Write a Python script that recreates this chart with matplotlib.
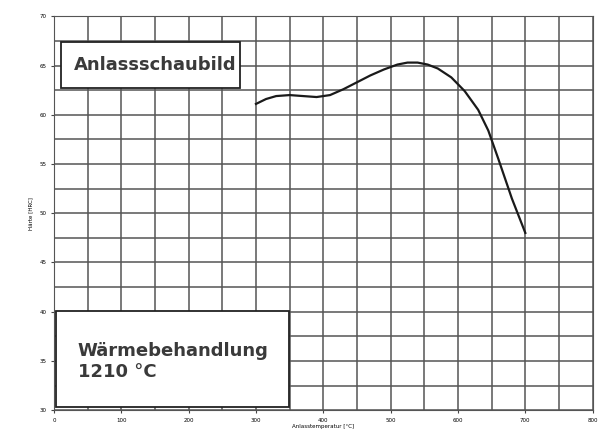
import matplotlib
matplotlib.use("Agg")
import matplotlib.pyplot as plt
from matplotlib.patches import Rectangle

# Anlasstemperatur [°C] vs Härte [HRC]
temp = [300, 315, 330, 350, 370, 390, 410, 430, 450, 470, 490, 510, 525, 540, 555, 570, 590, 610, 630, 645, 660, 680, 700]
haerte = [61.1, 61.6, 61.9, 62.0, 61.9, 61.8, 62.0, 62.6, 63.3, 64.0, 64.6, 65.1, 65.3, 65.3, 65.1, 64.7, 63.8, 62.4, 60.5, 58.4, 55.5, 51.5, 48.0]

xticks = list(range(0, 801, 100))
yticks = list(range(30, 71, 5))

fig = plt.figure(figsize=(6.06, 4.41), dpi=100)
ax = fig.add_axes([0.089, 0.070, 0.889, 0.893])

ax.set_xlim(0, 800)
ax.set_ylim(30, 70)
ax.set_xticks(xticks)
ax.set_yticks(yticks)
ax.set_xticks(range(0, 801, 50), minor=True)
ax.set_yticks([y + 2.5 for y in range(30, 70, 5)], minor=True)
ax.grid(True, which="both", color="#555555", linewidth=1.1)
ax.tick_params(which="minor", length=0)
ax.tick_params(which="major", labelsize=4, length=2, color="#444444")
for s in ax.spines.values():
    s.set_color("#555555")
ax.set_axisbelow(True)

ax.plot(temp, haerte, color="#1a1a1a", linewidth=1.6, zorder=3)

ax.set_xlabel("Anlasstemperatur [°C]", fontsize=4, labelpad=1)
ax.set_ylabel("Härte [HRC]", fontsize=4, labelpad=4)

# text boxes
ax.add_patch(Rectangle((0.013, 0.817), 0.332, 0.117, transform=ax.transAxes,
                       facecolor="white", edgecolor="#222222", linewidth=1.3, zorder=4))
ax.text(0.038, 0.876, "Anlassschaubild", transform=ax.transAxes, fontsize=13,
        fontweight="bold", va="center", ha="left", color="#3a3a3a", zorder=5)

ax.add_patch(Rectangle((0.004, 0.008), 0.432, 0.243, transform=ax.transAxes,
                       facecolor="white", edgecolor="#222222", linewidth=1.3, zorder=4))
ax.text(0.044, 0.124, "Wärmebehandlung\n1210 °C", transform=ax.transAxes, fontsize=13,
        fontweight="bold", va="center", ha="left", color="#3a3a3a", linespacing=1.2, zorder=5)

plt.savefig("out.png", dpi=100)
